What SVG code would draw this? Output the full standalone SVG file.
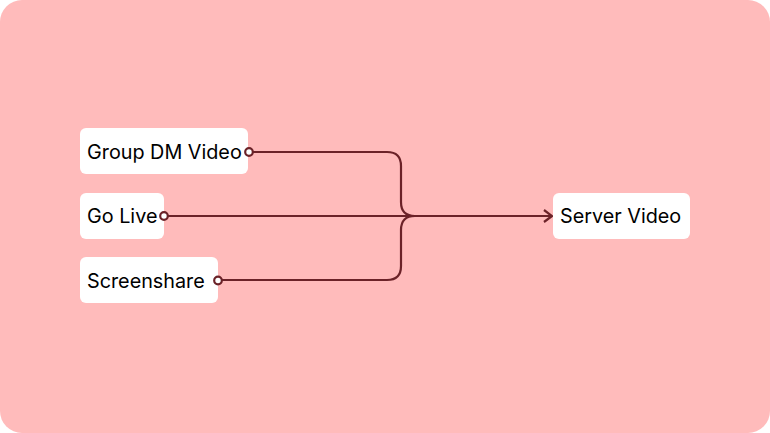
<svg xmlns="http://www.w3.org/2000/svg" width="770" height="433" viewBox="0 0 770 433">
<style>
.node rect{fill:#ffffff}
.node text{font-family:Inter,"Noto Sans",sans-serif;font-size:19.8px;fill:#000000}
.edge{fill:none;stroke:#6b2228;stroke-width:2.2}
.dot{fill:#ffffff;stroke:#6b2228;stroke-width:2.2}
</style>
<defs>
<marker id="arr" viewBox="0 0 12 14" refX="11" refY="7" markerWidth="12" markerHeight="14" markerUnits="userSpaceOnUse" orient="auto">
<path d="M3,1 L11,7 L3,13" fill="none" stroke="#6b2228" stroke-width="2.2"/>
</marker>
</defs>
<rect x="0" y="0" width="770" height="433" fill="#ffffff"/>
<rect x="0" y="0" width="770" height="433" rx="22" fill="#ffbbbb"/>
<g id="edges">
<path class="edge" d="M253,152 H387 Q401,152 401,166 V202 Q401,216 415,216"/>
<path class="edge" d="M168,216 H552" marker-end="url(#arr)"/>
<path class="edge" d="M222,280 H387 Q401,280 401,266 V230 Q401,216 415,216"/>
</g>
<g id="n-group" class="node">
<rect x="80" y="128" width="168" height="46" rx="6"/>
<text x="87" y="159">Group DM Video</text>
</g>
<g id="n-golive" class="node">
<rect x="80" y="193" width="84" height="46" rx="6"/>
<text x="87" y="223">Go Live</text>
</g>
<g id="n-screen" class="node">
<rect x="80" y="257" width="138" height="46" rx="6"/>
<text x="87" y="288">Screenshare</text>
</g>
<g id="n-server" class="node">
<rect x="553" y="193" width="137" height="46" rx="6"/>
<text x="560" y="223">Server Video</text>
</g>
<g id="dots">
<circle class="dot" cx="249" cy="152" r="3.8"/>
<circle class="dot" cx="164" cy="216" r="3.8"/>
<circle class="dot" cx="218" cy="280.5" r="3.8"/>
</g>
</svg>
